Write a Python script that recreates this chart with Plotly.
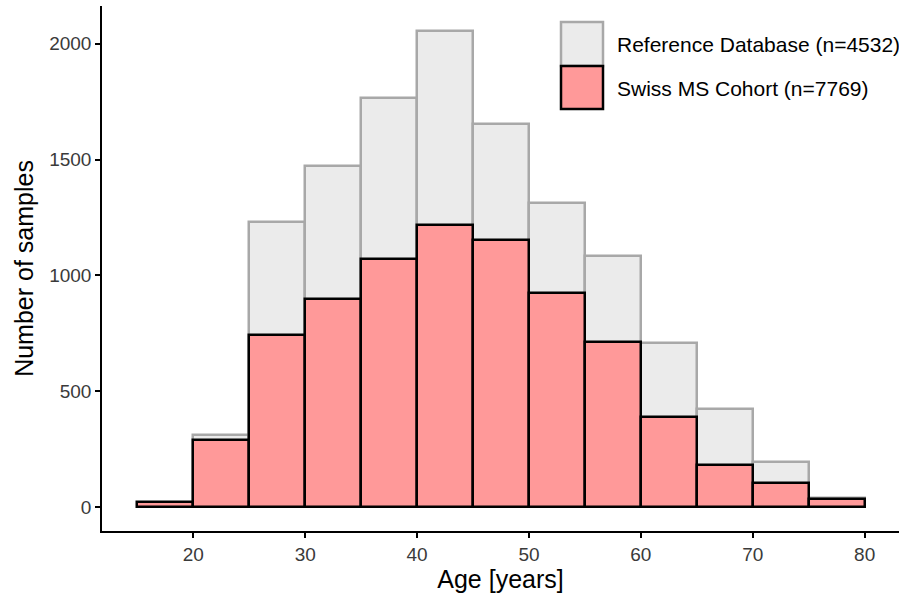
import plotly.graph_objects as go

# Age histogram: 5-year bins from 15 to 80
bin_left = [15, 20, 25, 30, 35, 40, 45, 50, 55, 60, 65, 70, 75]
bin_width = 5
swiss_ms = [22, 290, 745, 900, 1070, 1218, 1152, 925, 712, 390, 181, 105, 36]
reference_db = [None, 23, 485, 573, 694, 838, 501, 387, 373, 319, 241, 91, 5]

x_ticks = [20, 30, 40, 50, 60, 70, 80]
y_ticks = [0, 500, 1000, 1500, 2000]

centers = [b + bin_width / 2 for b in bin_left]
# the grey bars show the combined count, red bars sit in front of them
combined = [s + (r or 0) if r else None for s, r in zip(swiss_ms, reference_db)]

FONT = "Liberation Sans, Arial, sans-serif"
RED = "#FF9999"
GREY_FILL = "#EBEBEB"
GREY_LINE = "#A8A8A8"
TICK_COLOR = "#3A3A3A"

fig = go.Figure()
fig.add_trace(go.Bar(
    x=centers, y=combined, width=bin_width,
    marker=dict(color=GREY_FILL, line=dict(color=GREY_LINE, width=2.5)),
    name="Reference Database (n=4532)", showlegend=False,
))
fig.add_trace(go.Bar(
    x=centers, y=swiss_ms, width=bin_width,
    marker=dict(color=RED, line=dict(color="black", width=2.5)),
    name="Swiss MS Cohort (n=7769)", showlegend=False,
))

# plot area in pixels: left 102, right 899, top 6, bottom 531
L, R, T, B = 102, 899, 6, 531


def px(xp):
    return (xp - L) / (R - L)


def py(yp):
    return (B - yp) / (B - T)


shapes = [
    dict(type="rect", xref="paper", yref="paper",
         x0=px(561), x1=px(603), y0=py(66), y1=py(22),
         fillcolor=GREY_FILL, line=dict(color=GREY_LINE, width=2.5)),
    dict(type="rect", xref="paper", yref="paper",
         x0=px(561), x1=px(603), y0=py(109), y1=py(66),
         fillcolor=RED, line=dict(color="black", width=2.5)),
]
annotations = [
    dict(text="Reference Database (n=4532)", xref="paper", yref="paper",
         x=px(615), y=py(44), xanchor="left", yanchor="middle",
         showarrow=False, font=dict(family=FONT, size=21, color="black")),
    dict(text="Swiss MS Cohort (n=7769)", xref="paper", yref="paper",
         x=px(615), y=py(88), xanchor="left", yanchor="middle",
         showarrow=False, font=dict(family=FONT, size=21, color="black")),
]

fig.update_layout(
    width=899, height=598,
    margin=dict(l=L, r=899 - R, t=T, b=598 - B),
    paper_bgcolor="white", plot_bgcolor="white",
    barmode="overlay", bargap=0,
    font=dict(family=FONT, size=19, color="black"),
    shapes=shapes, annotations=annotations,
)
fig.update_xaxes(
    range=[11.84, 83.07], tickvals=x_ticks,
    showgrid=False, zeroline=False,
    showline=True, linecolor="black", linewidth=1.5,
    ticks="outside", ticklen=5, tickwidth=1.5, tickcolor="black",
    tickfont=dict(family=FONT, size=19, color=TICK_COLOR),
    title=dict(text="Age [years]", font=dict(family=FONT, size=25, color="black"), standoff=4),
)
fig.update_yaxes(
    range=[-103, 2163], tickvals=y_ticks,
    showgrid=False, zeroline=False,
    showline=True, linecolor="black", linewidth=1.5,
    ticks="outside", ticklen=5, tickwidth=1.5, tickcolor="black",
    tickfont=dict(family=FONT, size=19, color=TICK_COLOR),
    title=dict(text="Number of samples", font=dict(family=FONT, size=25, color="black"), standoff=8),
)

fig.write_html("out.html")
